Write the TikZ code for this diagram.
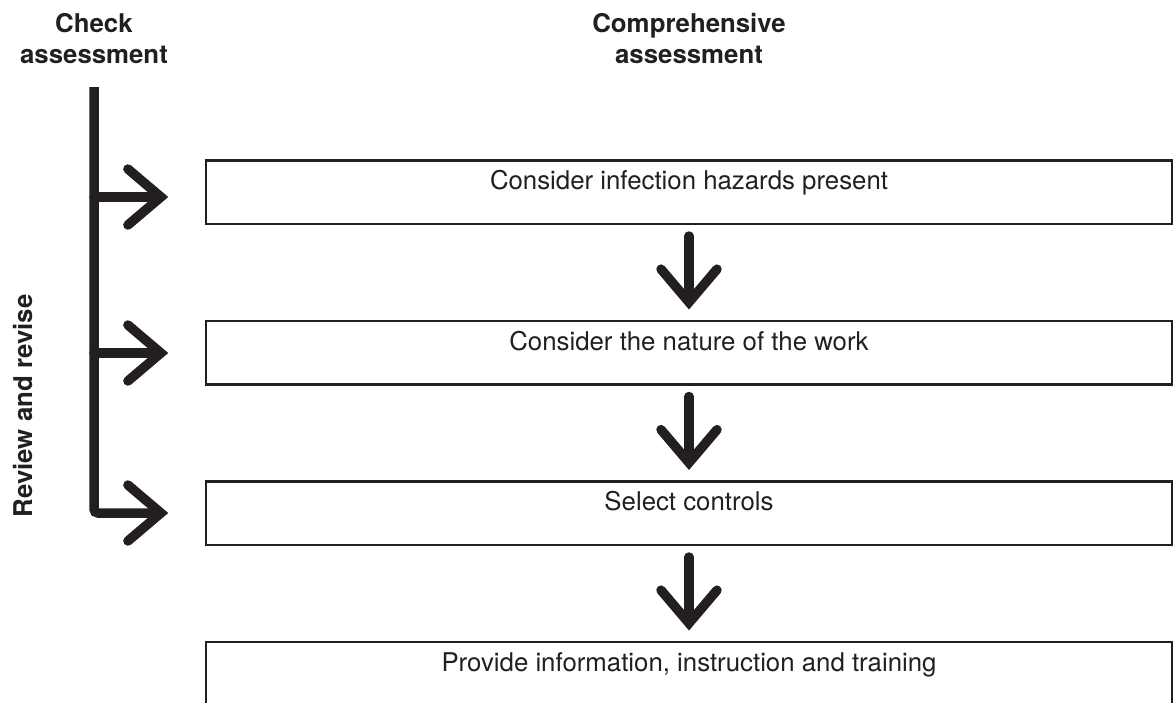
\documentclass[tikz,border=0pt]{standalone}
\usepackage{fontspec}
\setmainfont{TeX Gyre Heros}
\usetikzlibrary{positioning,arrows.meta}
\definecolor{ink}{RGB}{35,31,32}
\tikzset{
	stage/.style={draw=ink, line width=2.5pt, minimum width=966pt, inner xsep=0pt, inner ysep=0pt, text height=29.5pt, text depth=34pt, text=ink, font=\fontsize{25.8}{31}\selectfont},
	head/.style={align=center, inner sep=0pt, text=ink, font=\fontsize{25.8}{31}\selectfont\bfseries},
	flow/.style={draw=ink, line width=9.5pt, line cap=round, -{Straight Barb[length=33pt,width=56pt,line cap=round,line join=miter]}}
}

\begin{document}
\begin{tikzpicture}[x=1pt,y=-1pt,node distance=94.5pt]
		\useasboundingbox (0,0) rectangle (1173,702);
		\node [head, anchor=north] (check) at (94,13) {Check\\assessment};
		\node [head, anchor=north] (compr) at (689,13) {Comprehensive\\assessment};
		\node [head, rotate=90] (review) at (23,406) {Review and revise};
		\node [stage, anchor=north] (hazards) at (689,159) {Consider infection hazards present};
		\node [stage, below=of hazards] (nature) {Consider the nature of the work};
		\node [stage, below=of nature] (controls) {Select controls};
		\node [stage, below=of controls] (training) {Provide information, instruction and training};
		\coordinate (top) at (94,87);
		\coordinate (b1) at (94,197);
		\coordinate (b2) at (94,353);
		\draw [flow, line cap=butt, rounded corners=4pt, shorten >=36.5pt] (top) |- (controls.west);
		\draw [flow, shorten >=36.5pt] (b1) -- (b1 -| hazards.west);
		\draw [flow, shorten >=36.5pt] (b2) -- (b2 -| nature.west);
		\draw [flow, shorten <=11pt, shorten >=10pt] (hazards) -- (nature);
		\draw [flow, shorten <=11pt, shorten >=10pt] (nature) -- (controls);
		\draw [flow, shorten <=11pt, shorten >=10pt] (controls) -- (training);
	\end{tikzpicture}
\end{document}
